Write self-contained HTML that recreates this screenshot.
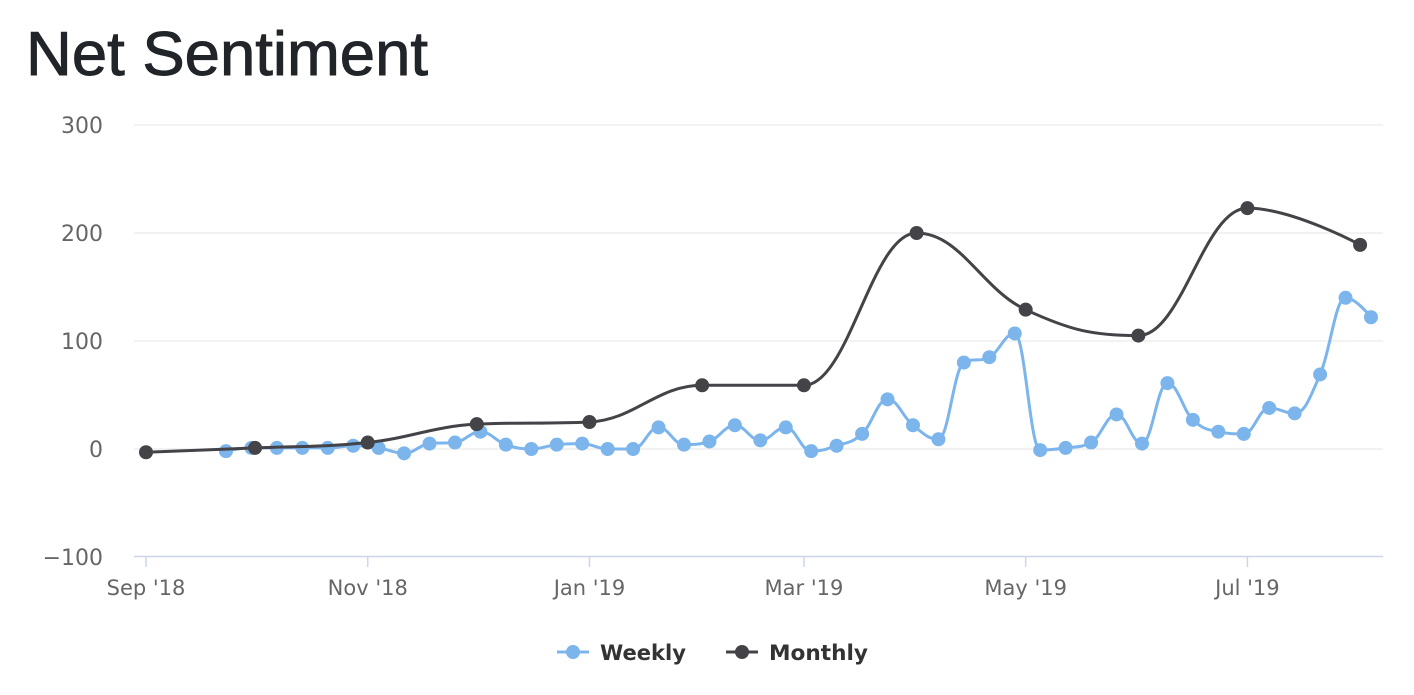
<!DOCTYPE html>
<html><head><meta charset="utf-8"><style>
body{margin:0;background:#fff;width:1414px;height:690px;overflow:hidden;font-family:"Liberation Sans",sans-serif}
</style></head><body>
<svg id="chart" width="1414" height="690">
<text x="26" y="75" font-size="62" fill="#212529" stroke="#212529" stroke-width="0.9" textLength="402" lengthAdjust="spacingAndGlyphs" font-family="Liberation Sans, sans-serif">Net Sentiment</text>
<g id="grid"></g><g id="axes"></g><g id="series"></g>
<g font-family="DejaVu Sans, sans-serif">
<g>
<line x1="557" y1="652" x2="589" y2="652" stroke="#7cb5ec" stroke-width="3"/><circle cx="573" cy="652" r="7" fill="#7cb5ec"/>
<text x="600" y="660" font-size="21" font-weight="bold" fill="#333" textLength="86" lengthAdjust="spacingAndGlyphs">Weekly</text></g>
<g>
<line x1="726" y1="652" x2="758" y2="652" stroke="#434348" stroke-width="3"/><circle cx="742" cy="652" r="7" fill="#434348"/>
<text x="769" y="660" font-size="21" font-weight="bold" fill="#333" textLength="99" lengthAdjust="spacingAndGlyphs">Monthly</text></g>
</g>
</svg>
<script>
const yTicks=[-100,0,100,200,300];
const xTickLabels=["Sep '18","Nov '18","Jan '19","Mar '19","May '19","Jul '19"];
const xTickDays=[0,61,122,181,242,303];
const monthlyDays=[0,30,61,91,122,153,181,212,242,273,303,334];
const monthlyValues=[-3,1,6,23,25,59,59,200,129,105,223,189];
const weeklyStartDay=22;
const weeklyValues=[-2,1,1,1,1,3,1,-4,5,6,16,4,0,4,5,0,0,20,4,7,22,8,20,-2,3,14,46,22,9,80,85,107,-1,1,6,32,5,61,27,16,14,38,33,69,140,122];
const NS='http://www.w3.org/2000/svg';
const X=d=>146+d*3.635;
const Y=v=>449-v*1.08;
function mk(tag,attrs,parent){const e=document.createElementNS(NS,tag);for(const k in attrs)e.setAttribute(k,attrs[k]);parent.appendChild(e);return e;}
const grid=document.getElementById('grid'),axes=document.getElementById('axes'),ser=document.getElementById('series');
yTicks.forEach(v=>{
 if(v!==-100){const l=mk('line',{x1:134,x2:1383,y1:Y(v),y2:Y(v),stroke:'#e6e6e6','stroke-width':1},grid);
 
 }
 const t=mk('text',{x:103,y:Y(v)+8,'text-anchor':'end','font-size':22,fill:'#666','font-family':'DejaVu Sans, sans-serif'},axes);
 t.textContent=v<0?'−'+(-v):String(v);
 
 
});
const ax=mk('line',{x1:134,x2:1383,y1:556.5,y2:556.5,stroke:'#ccd6eb','stroke-width':1.5},axes);


xTickDays.forEach((d,i)=>{
 const tk=mk('line',{x1:X(d),x2:X(d),y1:556,y2:567,stroke:'#ccd6eb','stroke-width':1.5},axes);
 
 
 const t=mk('text',{x:X(d),y:595,'text-anchor':'middle','font-size':21,fill:'#666','font-family':'DejaVu Sans, sans-serif'},axes);
 t.textContent=xTickLabels[i];
 
 
});
function spline(pts){
 let d='M'+pts[0][0]+' '+pts[0][1];
 const ctrl=[];
 for(let i=0;i<pts.length;i++){
  if(i===0||i===pts.length-1){ctrl.push(null);continue;}
  const [lx,ly]=pts[i-1],[px,py]=pts[i],[nx,ny]=pts[i+1];
  let lcx=(1.5*px+lx)/2.5,lcy=(1.5*py+ly)/2.5,rcx=(1.5*px+nx)/2.5,rcy=(1.5*py+ny)/2.5;
  const corr=((rcy-lcy)*(rcx-px))/(rcx-lcx)+py-rcy;lcy+=corr;rcy+=corr;
  if(lcy>ly&&lcy>py){lcy=Math.max(ly,py);rcy=2*py-lcy;}else if(lcy<ly&&lcy<py){lcy=Math.min(ly,py);rcy=2*py-lcy;}
  if(rcy>ny&&rcy>py){rcy=Math.max(ny,py);lcy=2*py-rcy;}else if(rcy<ny&&rcy<py){rcy=Math.min(ny,py);lcy=2*py-rcy;}
  ctrl.push([lcx,lcy,rcx,rcy]);
 }
 for(let i=1;i<pts.length;i++){
  const a=ctrl[i-1]?[ctrl[i-1][2],ctrl[i-1][3]]:pts[i-1];
  const b=ctrl[i]?[ctrl[i][0],ctrl[i][1]]:pts[i];
  d+=` C${a[0]} ${a[1]} ${b[0]} ${b[1]} ${pts[i][0]} ${pts[i][1]}`;
 }
 return d;
}
function drawSeries(days,vals,color,name){
 const g=mk('g',{},ser);
 
 
 const pts=days.map((d,i)=>[X(d),Y(vals[i])]);
 const p=mk('path',{d:spline(pts),fill:'none',stroke:color,'stroke-width':3,'stroke-linejoin':'round'},g);
 
 
 pts.forEach(([x,y])=>{
  const c=mk('circle',{cx:x,cy:y,r:7,fill:color},g);
  
  
 });
}
drawSeries(weeklyValues.map((v,i)=>weeklyStartDay+i*7),weeklyValues,'#7cb5ec','weekly');
drawSeries(monthlyDays,monthlyValues,'#434348','monthly');
</script>
</body></html>
